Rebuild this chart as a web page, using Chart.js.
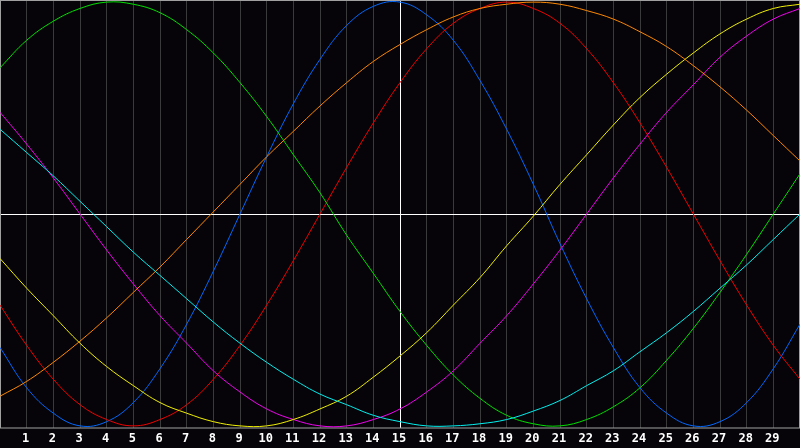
<!DOCTYPE html>
<html>
<head>
<meta charset="utf-8">
<script src="https://cdn.jsdelivr.net/npm/chart.js@4/dist/chart.umd.min.js"></script>
<style>
  html, body { margin: 0; padding: 0; background: #060408; overflow: hidden; }
  #wrap { width: 800px; height: 448px; }
</style>
</head>
<body>
<div id="wrap"><canvas id="c" width="800" height="448"></canvas></div>
<script>
// Days along the x axis (0..30) and the tick labels shown (1..29)
const days = [0,1,2,3,4,5,6,7,8,9,10,11,12,13,14,15,16,17,18,19,20,21,22,23,24,25,26,27,28,29,30];
const dayLabels = ['1','2','3','4','5','6','7','8','9','10','11','12','13','14','15','16','17','18','19','20','21','22','23','24','25','26','27','28','29'];

// Series values (range -1 .. 1)
const blueVals = [-0.63,-0.82,-0.94,-1.00,-0.98,-0.89,-0.73,-0.52,-0.27,0.00,0.27,0.52,0.73,0.89,0.98,1.00,0.94,0.82,0.63,0.40,0.14,-0.14,-0.40,-0.63,-0.82,-0.94,-1.00,-0.98,-0.89,-0.73,-0.52];
const redVals = [-0.43,-0.62,-0.78,-0.90,-0.97,-1.00,-0.97,-0.90,-0.78,-0.62,-0.43,-0.22,0.00,0.22,0.43,0.62,0.78,0.90,0.97,1.00,0.97,0.90,0.78,0.62,0.43,0.22,0.00,-0.22,-0.43,-0.62,-0.78];
const greenVals = [0.69,0.82,0.91,0.97,1.00,0.99,0.95,0.87,0.76,0.62,0.46,0.28,0.10,-0.10,-0.28,-0.46,-0.62,-0.76,-0.87,-0.95,-0.99,-1.00,-0.97,-0.91,-0.82,-0.69,-0.54,-0.37,-0.19,0.00,0.19];
const magentaVals = [0.48,0.33,0.17,0.00,-0.17,-0.33,-0.48,-0.61,-0.74,-0.84,-0.92,-0.97,-1.00,-1.00,-0.97,-0.92,-0.84,-0.74,-0.61,-0.48,-0.33,-0.17,0.00,0.17,0.33,0.48,0.61,0.74,0.84,0.92,0.97];
const yellowVals = [-0.21,-0.35,-0.48,-0.61,-0.72,-0.81,-0.89,-0.94,-0.98,-1.00,-1.00,-0.97,-0.92,-0.86,-0.77,-0.67,-0.56,-0.43,-0.30,-0.15,-0.01,0.14,0.28,0.42,0.55,0.66,0.76,0.85,0.92,0.97,0.99];
const orangeVals = [-0.86,-0.79,-0.70,-0.60,-0.49,-0.37,-0.25,-0.12,0.01,0.14,0.27,0.39,0.51,0.62,0.72,0.80,0.87,0.93,0.97,0.99,1.00,0.99,0.96,0.92,0.86,0.79,0.70,0.60,0.49,0.37,0.25];
const cyanVals = [0.40,0.29,0.18,0.06,-0.06,-0.18,-0.29,-0.40,-0.51,-0.61,-0.70,-0.78,-0.85,-0.90,-0.95,-0.98,-1.00,-1.00,-0.99,-0.97,-0.93,-0.88,-0.81,-0.74,-0.65,-0.56,-0.46,-0.35,-0.24,-0.12,0.00];

const seriesList = [
  { name: 'cyan', vals: cyanVals, color: '#00f0f0' },
  { name: 'orange', vals: orangeVals, color: '#ff8800' },
  { name: 'yellow', vals: yellowVals, color: '#f0f000' },
  { name: 'magenta', vals: magentaVals, color: '#f000f0' },
  { name: 'green', vals: greenVals, color: '#00e000' },
  { name: 'red', vals: redVals, color: '#f00000' },
  { name: 'blue', vals: blueVals, color: '#0068ff' }
];

const datasets = seriesList.map(s => ({
  label: s.name,
  data: days.map((d, i) => ({ x: d, y: s.vals[i] })),
  borderColor: s.color,
  backgroundColor: s.color,
  borderWidth: 1,
  pointRadius: 0,
  tension: 0.4,
  fill: false
}));

const frame = {
  id: 'frame',
  beforeDraw(chart) {
    const ctx = chart.ctx;
    ctx.save();
    ctx.fillStyle = '#060408';
    ctx.fillRect(0, 0, chart.width, chart.height);
    ctx.restore();
  },
  beforeDatasetsDraw(chart) {
    const ctx = chart.ctx;
    const a = chart.chartArea;
    const xs = chart.scales.x, ys = chart.scales.y;
    ctx.save();
    ctx.lineWidth = 1;
    ctx.strokeStyle = '#ffffff';
    const xm = Math.round(xs.getPixelForValue(15)) + 0.5;
    const ym = Math.round(ys.getPixelForValue(0)) + 0.5;
    ctx.beginPath();
    ctx.moveTo(xm, a.top); ctx.lineTo(xm, a.bottom);
    ctx.moveTo(a.left, ym); ctx.lineTo(a.right, ym);
    ctx.stroke();
    ctx.strokeStyle = '#a0a0a0';
    ctx.strokeRect(a.left + 0.5, a.top + 0.5, a.right - a.left - 1, a.bottom - a.top - 0.5);
    ctx.restore();
  }
};

new Chart(document.getElementById('c'), {
  type: 'line',
  data: { datasets },
  plugins: [frame],
  options: {
    responsive: false,
    animation: false,
    devicePixelRatio: 1,
    layout: { padding: 0 },
    plugins: { legend: { display: false }, tooltip: { enabled: false } },
    scales: {
      x: {
        type: 'linear',
        min: 0,
        max: 30,
        afterFit(scale) {
          scale.height = 20;
          scale.paddingLeft = 0;
          scale.paddingRight = 0;
        },
        border: { display: false },
        grid: {
          drawTicks: false,
          lineWidth: 1,
          color: (c) => (c.tick && c.tick.value > 0 && c.tick.value < 30 && c.tick.value !== 15) ? '#3a3a3a' : 'rgba(0,0,0,0)'
        },
        ticks: {
          stepSize: 1,
          autoSkip: false,
          maxRotation: 0,
          padding: 4,
          labelOffset: -1,
          color: '#ffffff',
          font: { family: 'DejaVu Sans Mono', size: 12, weight: 'bold' },
          callback: (v) => (v >= 1 && v <= 29) ? dayLabels[v - 1] : ''
        }
      },
      y: {
        display: false,
        min: -1.01,
        max: 1.01
      }
    }
  }
});
</script>
</body>
</html>
